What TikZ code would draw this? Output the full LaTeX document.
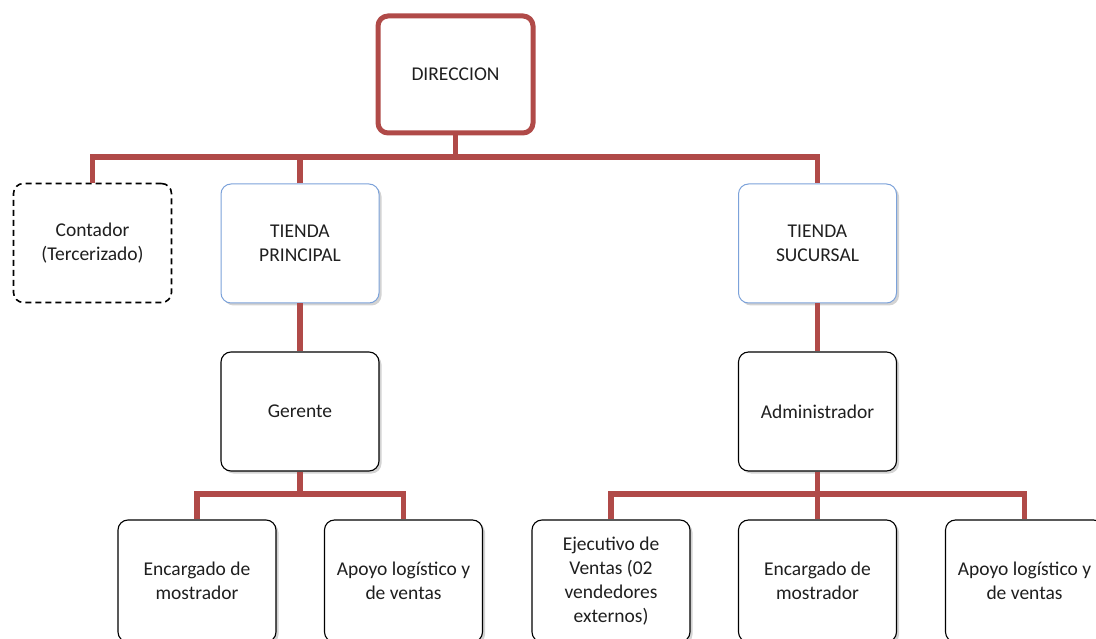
\documentclass[tikz,border=0pt]{standalone}
\usepackage{fontspec}
\setmainfont{Carlito}
\usetikzlibrary{shadows}
\definecolor{busred}{RGB}{176,74,72}
\definecolor{boxblue}{RGB}{124,162,218}
\begin{document}
\begin{tikzpicture}[x=1pt,y=-1pt,
  base/.style={rectangle,rounded corners=10pt,minimum width=158pt,minimum height=119pt,
    align=center,font=\fontsize{19.5}{24}\selectfont,text=black!88,inner sep=2pt},
  topbox/.style={base,draw=busred,line width=5pt,minimum width=155pt,minimum height=117pt,fill=white},
  dashbox/.style={base,draw=black,line width=1.6pt,dash pattern=on 6pt off 4pt,fill=white},
  bluebox/.style={base,draw=boxblue,line width=1pt,fill=white,
    drop shadow={opacity=0.35,shadow xshift=2.5pt,shadow yshift=-2.5pt}},
  plainbox/.style={base,draw=black,line width=1.1pt,fill=white,
    drop shadow={opacity=0.35,shadow xshift=2.5pt,shadow yshift=-2.5pt}},
  bus/.style={draw=busred,line width=5.5pt,line join=miter}]
\useasboundingbox (0,0) rectangle (1096,639);
\clip (0,0) rectangle (1096,639);
% nodes
\node[topbox] (dir) at (455.5,74.5) {DIRECCION};
\node[dashbox] (cont) at (92.5,243) {Contador\\(Tercerizado)};
\node[bluebox] (tp) at (300,243.5) {TIENDA\\PRINCIPAL};
\node[bluebox] (ts) at (817.5,243.5) {TIENDA\\SUCURSAL};
\node[plainbox] (ger) at (300,411.5) {Gerente};
\node[plainbox] (adm) at (817.5,411.5) {Administrador};
\node[plainbox,minimum height=122pt] (enc1) at (197,581) {Encargado de\\mostrador};
\node[plainbox,minimum height=122pt] (apo1) at (403.5,581) {Apoyo log\'istico y\\de ventas};
\node[plainbox,minimum height=122pt] (eje) at (611,581) {Ejecutivo de\\Ventas (02\\vendedores\\externos)};
\node[plainbox,minimum height=122pt] (enc2) at (817.5,581) {Encargado de\\mostrador};
\node[plainbox,minimum height=122pt] (apo2) at (1024.5,581) {Apoyo log\'istico y\\de ventas};
% connectors
\coordinate (b1) at (455.5,157);
\coordinate (b2) at (300,494);
\coordinate (b3) at (817.5,494);
\draw[bus] (dir.south) -- (b1);
\draw[bus] (cont.north) |- (b1) -| (ts.north);
\draw[bus] (tp.north) -- (tp.north |- b1);
\draw[bus] (tp.south) -- (ger.north);
\draw[bus] (ts.south) -- (adm.north);
\draw[bus] (ger.south) -- (b2);
\draw[bus] (enc1.north) |- (b2) -| (apo1.north);
\draw[bus] (adm.south) -- (b3);
\draw[bus] (eje.north) |- (b3) -| (apo2.north);
\draw[bus] (enc2.north) -- (enc2.north |- b3);
\end{tikzpicture}
\end{document}
